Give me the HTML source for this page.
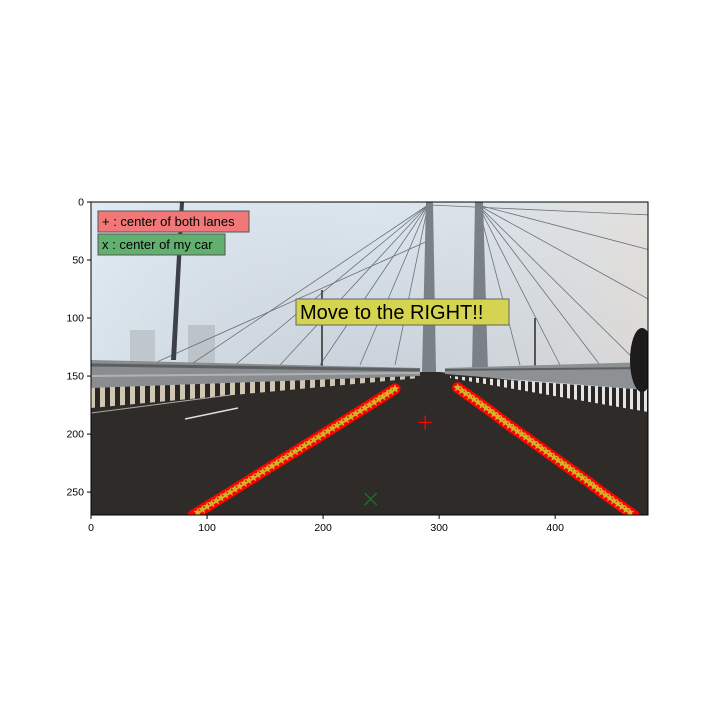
<!DOCTYPE html>
<html><head><meta charset="utf-8"><style>
html,body{margin:0;padding:0;background:#fff;}
svg{display:block;font-family:"Liberation Sans","DejaVu Sans",sans-serif;}
</style></head><body>
<svg id="chart" width="720" height="720" viewBox="0 0 720 720">
<defs>
<linearGradient id="sky" x1="0" y1="0" x2="0" y2="1">
<stop offset="0" stop-color="#dce6ee"/><stop offset="0.55" stop-color="#c9d2da"/><stop offset="1" stop-color="#b9bfc4"/>
</linearGradient>
<linearGradient id="skyx" x1="0" y1="0" x2="1" y2="0">
<stop offset="0" stop-color="#e2eef6" stop-opacity="0.6"/><stop offset="0.5" stop-color="#d0d6dc" stop-opacity="0"/><stop offset="1" stop-color="#e8ddd2" stop-opacity="0.6"/>
</linearGradient>
<pattern id="stripes" width="10" height="40" patternUnits="userSpaceOnUse">
<rect width="10" height="40" fill="#2a2624"/><rect width="5" height="40" fill="#cfc6b4"/>
</pattern>
<pattern id="stripesR" width="7" height="40" patternUnits="userSpaceOnUse">
<rect width="7" height="40" fill="#2a2624"/><rect width="3" height="40" fill="#e4e4e4"/>
</pattern>
<clipPath id="plotclip"><rect x="91" y="202" width="557" height="313"/></clipPath>
</defs>
<g id="img" clip-path="url(#plotclip)"></g>
<g id="marks" clip-path="url(#plotclip)"></g>
<rect x="91" y="202" width="557" height="313" fill="none" stroke="#000" stroke-width="1"/>
<g id="axes"></g>
<g>
<rect x="98" y="211" width="151" height="21" fill="#f07878" stroke="#555" stroke-width="1"/>
<text x="102" y="226" font-size="13" fill="#000">+ : center of both lanes</text>
</g>
<g>
<rect x="98" y="234" width="127" height="21" fill="#62b070" stroke="#555" stroke-width="1"/>
<text x="102" y="249" font-size="13" fill="#000">x : center of my car</text>
</g>
<g>
<rect x="296" y="299" width="213" height="26" fill="#d4d450" stroke="#666" stroke-width="1"/>
<text x="300" y="319" font-size="20" fill="#000">Move to the RIGHT!!</text>
</g>
</svg>
<script>
var xTicks=[0,100,200,300,400];
var yTicks=[0,50,100,150,200,250];
var leftLaneX=[262,248,232,216,200,184,168,152,136,120,104,88];
var leftLaneY=[161,170,180,190,200,210,220,230,240,250,260,270];
var rightLaneX=[316,330,344,357,371,385,399,413,427,440,454,468];
var rightLaneY=[160,170,180,190,200,210,220,230,240,250,260,270];
var laneCenter=[288,190];
var carCenter=[241,256];

var S=557/480;
function sx(v){return 91+v*S;}
function sy(v){return 202+v*S;}
var NS="http://www.w3.org/2000/svg";
function mk(tag,attrs,parent){var e=document.createElementNS(NS,tag);for(var k in attrs)e.setAttribute(k,attrs[k]);parent.appendChild(e);return e;}

var img=document.getElementById('img');
mk('rect',{x:91,y:202,width:557,height:313,fill:'url(#sky)'},img);
mk('rect',{x:91,y:202,width:557,height:170,fill:'url(#skyx)'},img);
mk('rect',{x:130,y:330,width:25,height:35,fill:'#bfc6cc'},img);
mk('rect',{x:188,y:325,width:27,height:40,fill:'#bcc3c9'},img);
var cab=mk('g',{stroke:'#6c7178','stroke-width':0.8,fill:'none'},img);
[[428,205,190,365],[428,205,235,365],[428,205,280,365],[428,205,320,365],[428,205,360,365],[428,205,395,365],[430,240,150,365],[478,205,560,365],[478,205,600,365],[478,205,640,365],[478,205,520,365],[478,205,650,300],[478,205,650,250],[430,205,650,215]].forEach(function(c){mk('line',{x1:c[0],y1:c[1],x2:c[2],y2:c[3]},cab);});
mk('polygon',{points:'426,202 433,202 436,372 422,372',fill:'#7a8088'},img);
mk('polygon',{points:'475,202 483,202 488,372 472,372',fill:'#7a8088'},img);
mk('polygon',{points:'180,202 184,202 176,360 171,360',fill:'#3c4148'},img);
mk('line',{x1:322,y1:290,x2:322,y2:370,stroke:'#555',"stroke-width":2},img);
mk('line',{x1:535,y1:318,x2:535,y2:370,stroke:'#555',"stroke-width":2},img);
// road
mk('polygon',{points:'91,400 420,372 440,372 648,395 648,515 91,515',fill:'#2f2b29'},img);
// left guardrail
mk('polygon',{points:'91,360 420,368 420,376 91,388',fill:'#8a8d90'},img);
mk('polygon',{points:'91,388 420,376 420,378 91,408',fill:'url(#stripes)'},img);
mk('line',{x1:91,y1:365,x2:420,y2:370,stroke:'#5c5f62','stroke-width':3},img);
mk('line',{x1:91,y1:376,x2:420,y2:373,stroke:'#b0b2b4','stroke-width':2},img);
// right guardrail
mk('polygon',{points:'445,368 648,362 648,390 445,374',fill:'#8e9194'},img);
mk('polygon',{points:'450,376 648,390 648,412 450,378',fill:'url(#stripesR)'},img);
mk('line',{x1:445,y1:370,x2:648,y2:368,stroke:'#5c5f62','stroke-width':2},img);
mk('line',{x1:185,y1:419,x2:238,y2:408,stroke:'#ddd','stroke-width':1.5},img);
mk('line',{x1:91,y1:413,x2:230,y2:395,stroke:'#aaa','stroke-width':1},img);
mk('ellipse',{cx:642,cy:360,rx:12,ry:32,fill:'#1c1a1a'},img);

var ax=document.getElementById('axes');
xTicks.forEach(function(t){
  var l=mk('line',{x1:sx(t),y1:515,x2:sx(t),y2:519,stroke:'#000'},ax);
  
  
  var tx=mk('text',{x:sx(t),y:531,'font-size':10.5,'text-anchor':'middle'},ax);tx.textContent=t;
  
  
});
yTicks.forEach(function(t){
  var l=mk('line',{x1:87,y1:sy(t),x2:91,y2:sy(t),stroke:'#000'},ax);
  
  
  var tx=mk('text',{x:84,y:sy(t)+3.5,'font-size':10.5,'text-anchor':'end'},ax);tx.textContent=t;
  
  
});

var marks=document.getElementById('marks');
function star(cx,cy,r){var p=[];for(var i=0;i<10;i++){var a=-Math.PI/2+i*Math.PI/5,rr=i%2?r*0.45:r;p.push((cx+rr*Math.cos(a)).toFixed(1)+','+(cy+rr*Math.sin(a)).toFixed(1));}return p.join(' ');}
function lane(xs,ys,name){
  var g=mk('g',{},marks);
  
  
  var pts=xs.map(function(x,i){return sx(x)+','+sy(ys[i]);}).join(' ');
  mk('polyline',{points:pts,fill:'none',stroke:'#ff0000','stroke-width':11,'stroke-linecap':'round'},g);
  for(var i=0;i<xs.length-1;i++){
    for(var k=0;k<4;k++){
      var f=k/4,x=xs[i]+(xs[i+1]-xs[i])*f,y=ys[i]+(ys[i+1]-ys[i])*f;
      var s=mk('polygon',{points:star(sx(x),sy(y),4.5),fill:'#d2b428'},g);
      
      
    }
  }
}
lane(leftLaneX,leftLaneY,'left-lane');
lane(rightLaneX,rightLaneY,'right-lane');
var cx=sx(laneCenter[0]),cy=sy(laneCenter[1]);
var plus=mk('path',{d:'M'+(cx-7)+','+cy+'H'+(cx+7)+'M'+cx+','+(cy-7)+'V'+(cy+7),stroke:'#ff0000','stroke-width':1.3,fill:'none'},marks);


var kx=sx(carCenter[0]),ky=sy(carCenter[1]);
var xm=mk('path',{d:'M'+(kx-6)+','+(ky-6)+'L'+(kx+6)+','+(ky+6)+'M'+(kx+6)+','+(ky-6)+'L'+(kx-6)+','+(ky+6),stroke:'#1a7a1a','stroke-width':1.3,fill:'none'},marks);


</script>
</body></html>
